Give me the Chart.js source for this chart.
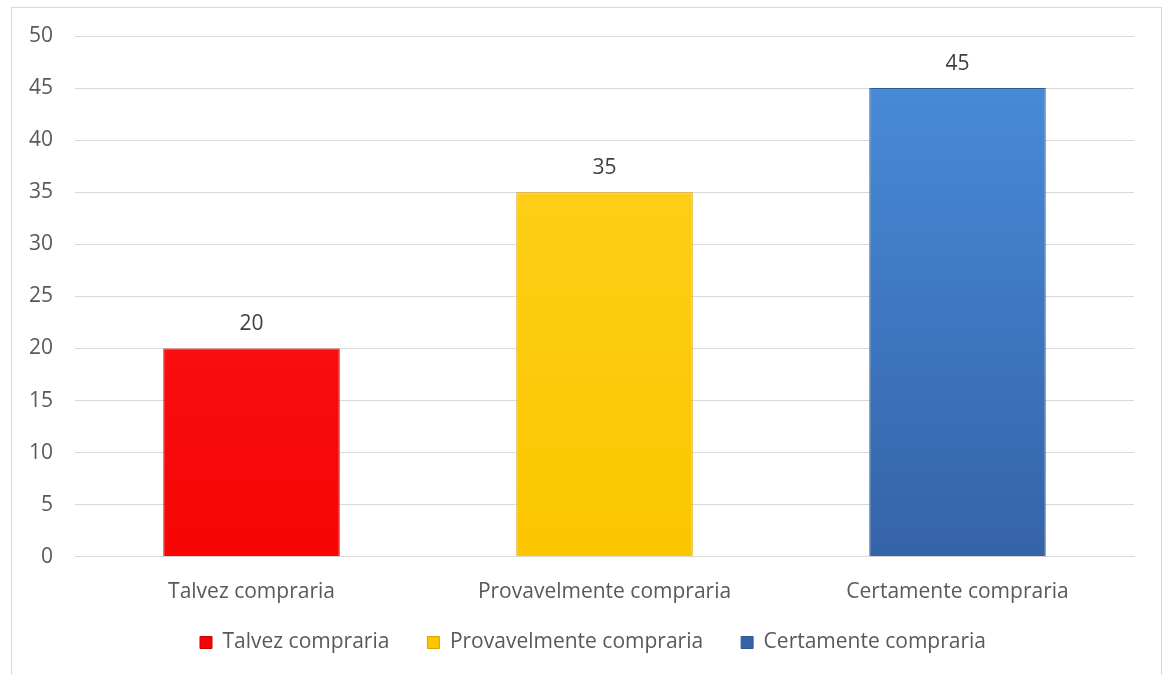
<!DOCTYPE html>
<html>
<head>
<meta charset="utf-8">
<script src="https://cdn.jsdelivr.net/npm/chart.js@4.4.0/dist/chart.umd.min.js"></script>
<style>
  html, body { margin: 0; padding: 0; background: #fff; }
  #wrap { position: relative; width: 1169px; height: 675px; }
</style>
</head>
<body>
<div id="wrap"><canvas id="chart" width="1169" height="675"></canvas></div>
<script>
// data
const categories = ['Talvez compraria', 'Provavelmente compraria', 'Certamente compraria']
const values = [20, 35, 45]
const yTicks = [0, 5, 10, 15, 20, 25, 30, 35, 40, 45, 50]

// top / bottom colour of each bar
const barTop = ['#ff1a1a', '#ffd21f', '#4a8edc']
const barBottom = ['#f70505', '#fbc600', '#3563a8']
const barEdge = ['#c80000', '#d9a400', '#2f5a96']

const font = { family: 'Open Sans', size: 21 }

function barFill(context) {
	let chart = context.chart
	let area = chart.chartArea
	if (!area) return barBottom[context.dataIndex]
	let g = chart.ctx.createLinearGradient(0, area.top, 0, area.bottom)
	g.addColorStop(0, barTop[context.dataIndex])
	g.addColorStop(1, barBottom[context.dataIndex])
	return g
}

// frame round the chart, legend moved up under the axis labels
const framePlugin = {
	id: 'frame',
	beforeInit: function (chart) {
		let fit = chart.legend.fit
		chart.legend.fit = function () {
			fit.call(this)
			this.height = 50
		}
	},
	afterLayout: function (chart) {
		let lg = chart.legend
		lg.top = 594
		lg.bottom = 675
		lg.height = lg.bottom - lg.top
		lg.left = 52
	},
	beforeDraw: function (chart) {
		let ctx = chart.ctx
		ctx.save()
		ctx.strokeStyle = '#d9d9d9'
		ctx.lineWidth = 1
		ctx.strokeRect(11.5, 7.5, 1150, 700)
		ctx.restore()
	},
}

// value printed above every bar
const valueLabels = {
	id: 'valueLabels',
	afterDatasetsDraw: function (chart) {
		let ctx = chart.ctx
		ctx.save()
		ctx.font = '21px "Open Sans"'
		ctx.fillStyle = '#404040'
		ctx.textAlign = 'center'
		ctx.textBaseline = 'middle'
		chart.getDatasetMeta(0).data.forEach(function (bar, i) {
			ctx.fillText(values[i], bar.x, bar.y - 24)
		})
		ctx.restore()
	},
}

new Chart(document.getElementById('chart'), {
	type: 'bar',
	data: {
		labels: categories,
		datasets: [{
			data: values,
			backgroundColor: barFill,
			borderColor: barEdge,
			borderWidth: 1,
			categoryPercentage: 1,
			barPercentage: 0.5,
		}],
	},
	options: {
		responsive: false,
		animation: false,
		layout: { padding: { left: 7, right: 35, top: 36, bottom: 0 } },
		scales: {
			x: {
				grid: { display: false, drawTicks: true, tickLength: 3 },
				border: { display: true, color: '#d9d9d9' },
				ticks: { color: '#595959', font: font, padding: 20 },
			},
			y: {
				min: 0,
				max: 50,
				afterBuildTicks: function (axis) {
					axis.ticks = yTicks.map(function (v) { return { value: v } })
				},
				grid: { color: '#d9d9d9', drawTicks: false },
				border: { display: false },
				ticks: { color: '#595959', font: font, padding: 22 },
			},
		},
		plugins: {
			legend: {
				position: 'bottom',
				labels: {
					color: '#595959',
					font: font,
					boxWidth: 12,
					boxHeight: 12,
					padding: 38,
					generateLabels: function () {
						return categories.map(function (c, i) {
							return { text: c, fontColor: '#595959', fillStyle: barBottom[i], strokeStyle: barEdge[i], lineWidth: 1, index: i }
						})
					},
				},
			},
			tooltip: { enabled: false },
		},
	},
	plugins: [framePlugin, valueLabels],
})
</script>
</body>
</html>
